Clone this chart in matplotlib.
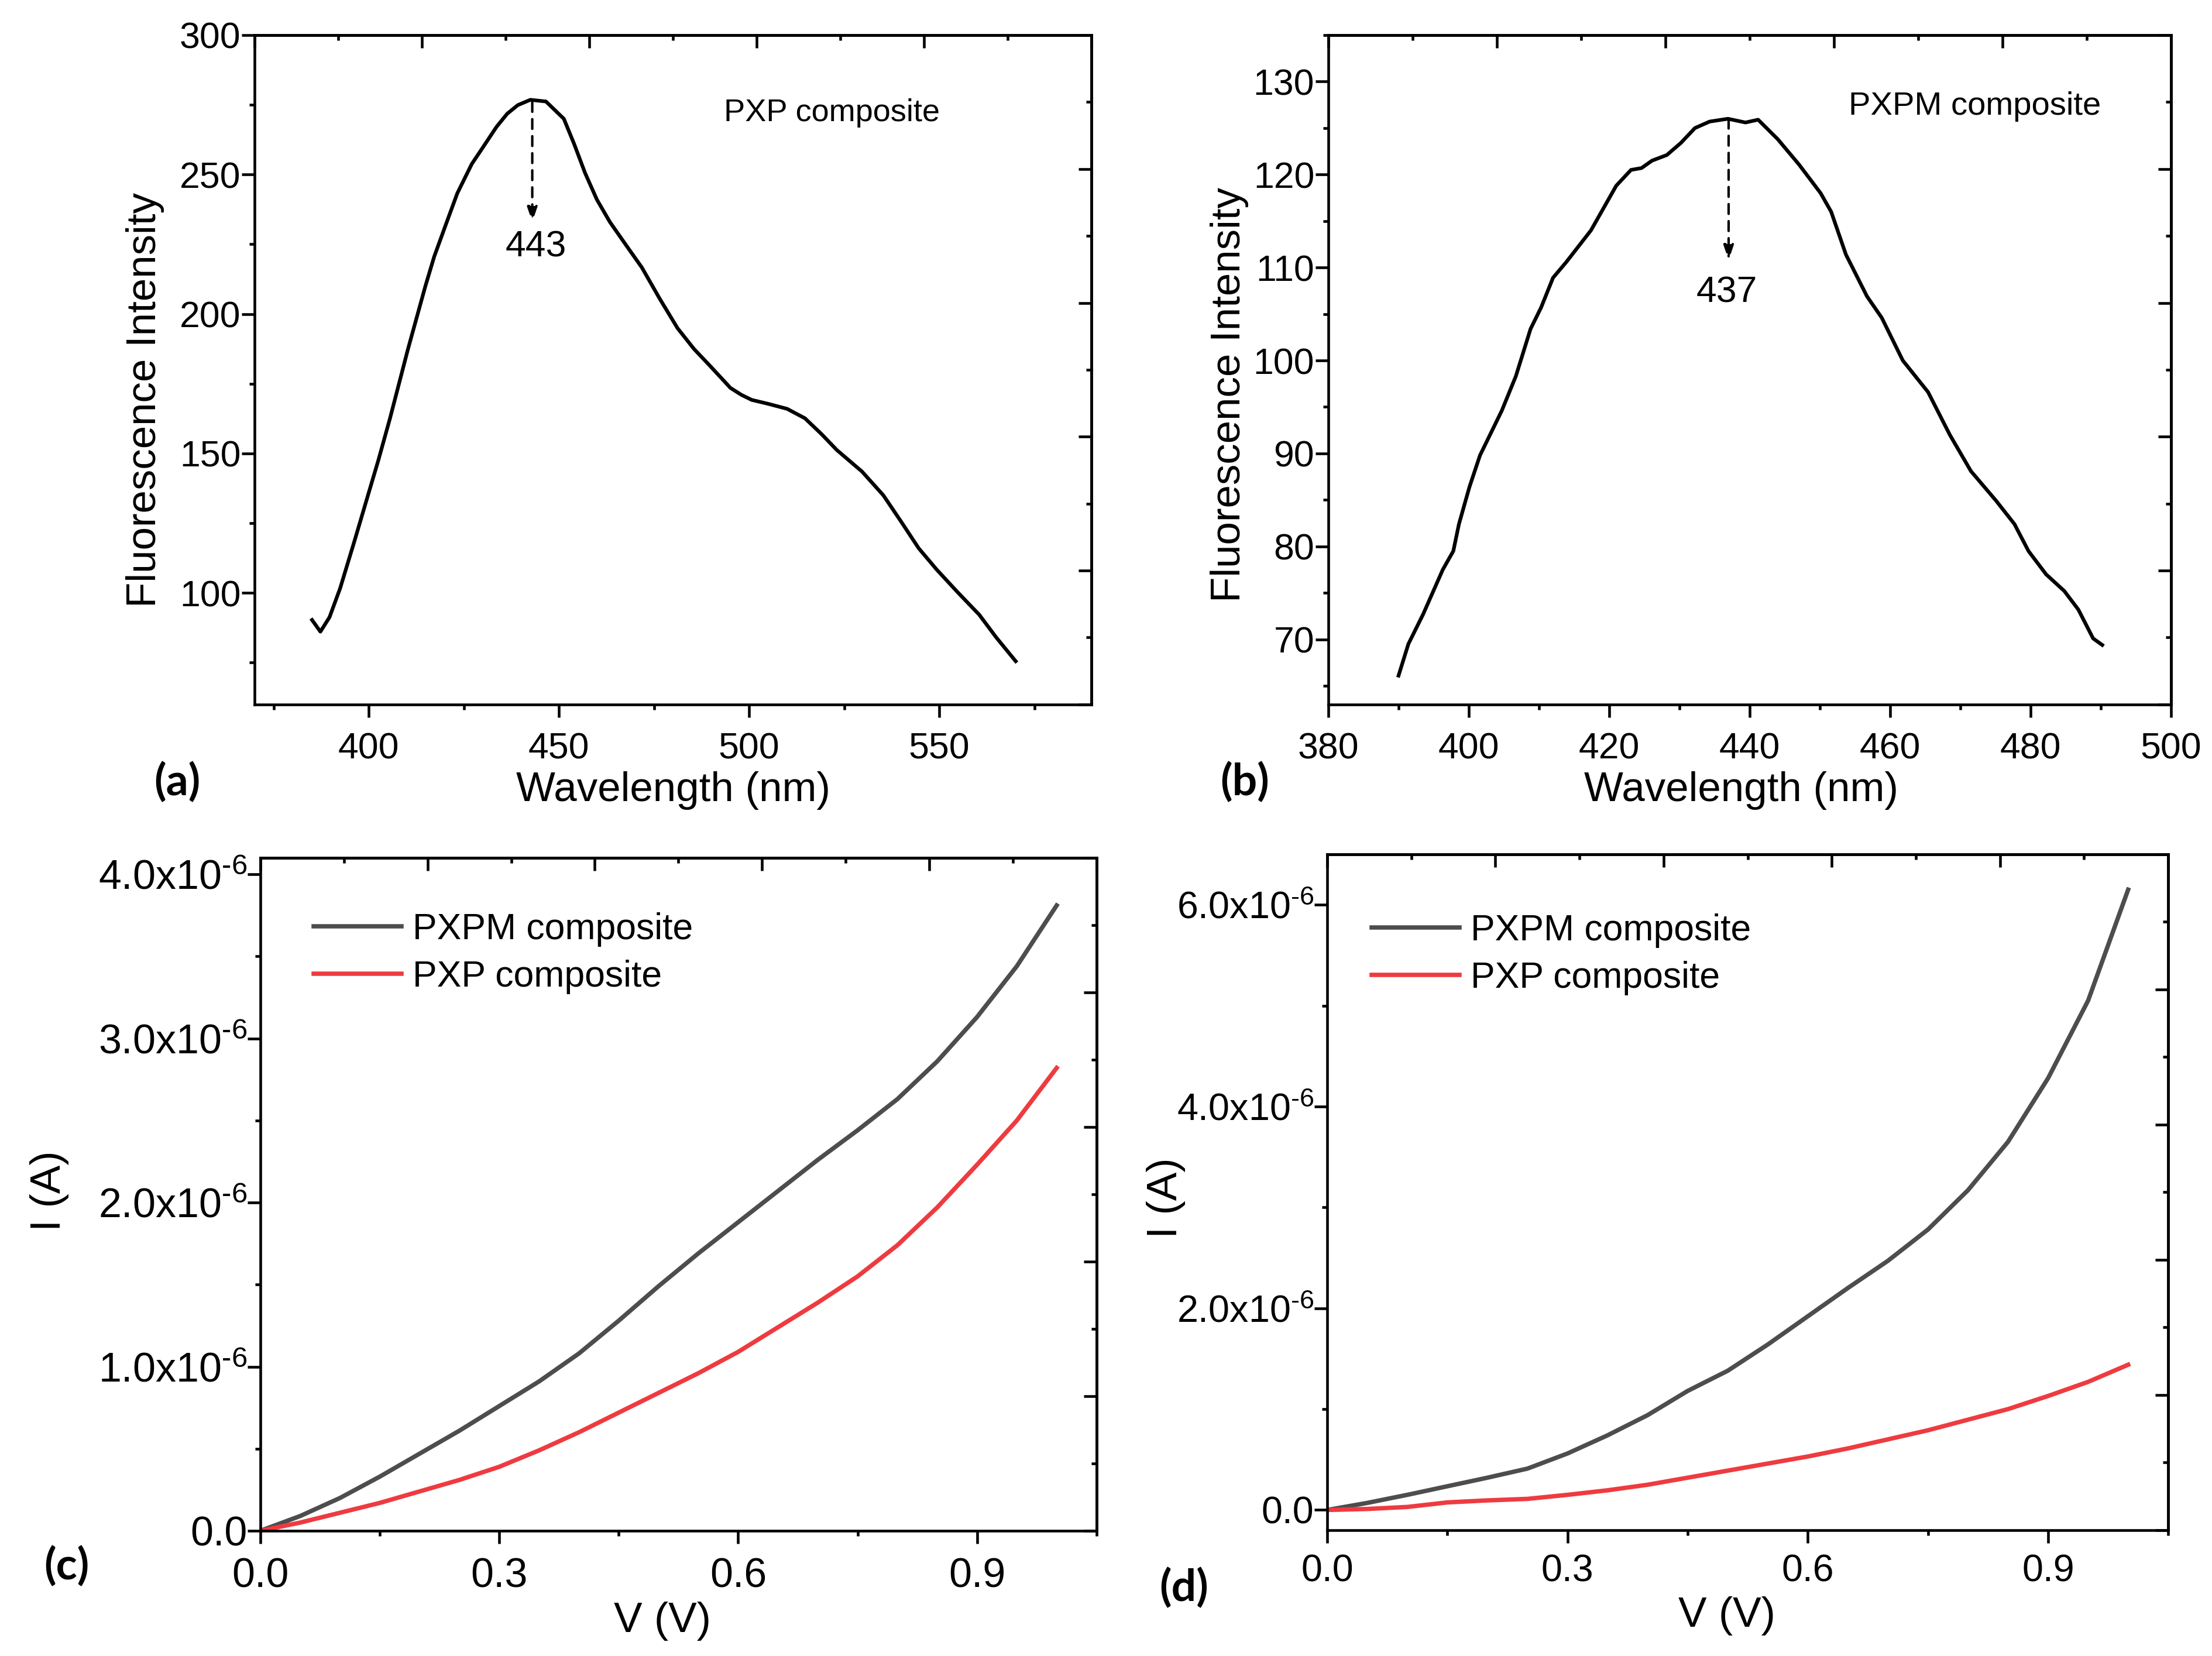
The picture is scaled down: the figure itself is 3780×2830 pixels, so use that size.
import numpy as np
import matplotlib
matplotlib.use('Agg')
import matplotlib.pyplot as plt
from matplotlib.ticker import MultipleLocator, FixedLocator, FuncFormatter

plt.rcParams['font.family'] = ['Liberation Sans', 'DejaVu Sans']
plt.rcParams['mathtext.fontset'] = 'custom'
plt.rcParams['mathtext.rm'] = 'Liberation Sans'
plt.rcParams['mathtext.it'] = 'Liberation Sans:italic'
plt.rcParams['mathtext.default'] = 'regular'
plt.rcParams['axes.linewidth'] = 1.1

# ─── (a) PXP fluorescence ───────────────────────────────────────────────────
pxp_wl = [385.1, 387.3, 389.7, 392.5, 396.3, 400.0, 402.5, 405.6, 410.3, 414.9,
          417.2, 420.5, 423.3, 427.1, 429.9, 433.6, 436.4, 439.2, 442.5, 446.6,
          451.3, 454.0, 456.9, 460.0, 463.4, 467.5, 471.8, 476.5, 481.2, 485.5,
          489.6, 495.1, 498.0, 500.7, 505.0, 510.0, 514.7, 519.0, 523.1, 529.7,
          535.3, 540.0, 544.6, 549.3, 555.0, 560.5, 565.0, 570.1]
pxp_fl = [90.3, 86.1, 91.3, 101.7, 118.8, 135.9, 147.4, 162.6, 187.3, 210.0,
          220.5, 232.9, 243.3, 253.8, 259.5, 267.1, 271.8, 274.9, 276.8, 276.2,
          270.0, 261.0, 250.5, 241.0, 233.0, 225.0, 216.7, 205.5, 194.9, 187.5,
          181.6, 173.5, 171.0, 169.2, 167.8, 166.0, 162.6, 157.0, 151.2, 143.5,
          135.0, 125.5, 116.0, 108.4, 100.0, 92.2, 84.0, 75.5]

# ─── (b) PXPM fluorescence ──────────────────────────────────────────────────
pxpm_wl = [390.0, 391.4, 393.5, 396.3, 397.8, 398.6, 400.1, 401.6, 402.7, 404.7,
           406.7, 408.8, 410.3, 412.0, 413.9, 417.4, 421.0, 423.1, 424.6, 426.1,
           428.2, 430.2, 432.2, 434.3, 436.9, 439.4, 441.2, 444.0, 447.0, 450.1,
           451.6, 453.7, 456.7, 458.8, 461.8, 465.4, 468.5, 471.5, 475.1, 477.7,
           479.7, 482.2, 484.8, 486.8, 488.9, 490.2]
pxpm_fl = [66.1, 69.5, 72.7, 77.5, 79.5, 82.4, 86.4, 89.8, 91.5, 94.6,
           98.3, 103.4, 105.7, 108.9, 110.6, 114.0, 118.8, 120.5, 120.7, 121.5,
           122.1, 123.4, 125.0, 125.7, 126.0, 125.6, 125.9, 123.8, 121.1, 118.0,
           116.0, 111.4, 106.9, 104.6, 100.0, 96.6, 92.0, 88.1, 84.9, 82.4,
           79.5, 77.0, 75.2, 73.2, 70.1, 69.4]

# ─── I-V sweep (shared voltage points) ──────────────────────────────────────
volts = [0.0, 0.05, 0.1, 0.15, 0.2, 0.25, 0.3, 0.35, 0.4, 0.45, 0.5,
         0.55, 0.6, 0.65, 0.7, 0.75, 0.8, 0.85, 0.9, 0.95, 1.0]

# (c) current in 1e-6 A
pxpm_c = [0.0, 0.09, 0.20, 0.33, 0.47, 0.61, 0.76, 0.91, 1.08, 1.28, 1.49,
          1.69, 1.88, 2.07, 2.26, 2.44, 2.63, 2.86, 3.13, 3.44, 3.81]
pxp_c = [0.0, 0.05, 0.11, 0.17, 0.24, 0.31, 0.39, 0.49, 0.60, 0.72, 0.84,
         0.96, 1.09, 1.24, 1.39, 1.55, 1.74, 1.97, 2.23, 2.50, 2.82]

# (d) current in 1e-6 A
pxpm_d = [0.0, 0.07, 0.15, 0.235, 0.32, 0.41, 0.56, 0.74, 0.94, 1.18, 1.38,
          1.64, 1.92, 2.20, 2.47, 2.78, 3.17, 3.65, 4.28, 5.05, 6.15]
pxp_d = [0.0, 0.01, 0.03, 0.075, 0.095, 0.11, 0.15, 0.195, 0.25, 0.32, 0.39,
         0.46, 0.53, 0.61, 0.70, 0.79, 0.895, 1.0, 1.13, 1.27, 1.44]

GRAY = '#4d4d4d'
RED = '#ee3b40'


def mirror_ticks(ax, xlim, ylim):
    # Origin-style top/right axes: range split into 10, long tick every 2nd
    top = ax.secondary_xaxis('top')
    top.xaxis.set_major_locator(FixedLocator(np.linspace(xlim[0], xlim[1], 6)))
    top.xaxis.set_minor_locator(FixedLocator(np.linspace(xlim[0], xlim[1], 11)))
    top.tick_params(which='both', direction='in', labeltop=False, width=1.1)
    top.tick_params(which='major', length=5.2)
    top.tick_params(which='minor', length=2.2)
    right = ax.secondary_yaxis('right')
    right.yaxis.set_major_locator(FixedLocator(np.linspace(ylim[0], ylim[1], 6)))
    right.yaxis.set_minor_locator(FixedLocator(np.linspace(ylim[0], ylim[1], 11)))
    right.tick_params(which='both', direction='in', labelright=False, width=1.1)
    right.tick_params(which='major', length=5.2)
    right.tick_params(which='minor', length=2.2)


def style_axes(ax, size, xpad, ypad):
    ax.tick_params(which='both', direction='out', top=False, right=False,
                   width=1.1, labelsize=size)
    ax.tick_params(which='major', length=5.2)
    ax.tick_params(which='minor', length=2.2)
    ax.tick_params(axis='x', pad=xpad)
    ax.tick_params(axis='y', pad=ypad)


def sci_fmt(v, pos):
    if abs(v) < 1e-12:
        return '0.0'
    return f'{v * 1e6:.1f}x10$^{{\\text{{-6}}}}$'


def dashed_arrow(ax, x, y0, y1):
    ax.annotate('', xy=(x, y1), xytext=(x, y0),
                arrowprops=dict(arrowstyle='-|>,head_length=0.5,head_width=0.17',
                                color='black', lw=1.0, linestyle=(0, (4, 3)),
                                shrinkA=0, shrinkB=0, mutation_scale=10))


fig = plt.figure(figsize=(12.6, 2830 / 300), dpi=300)

# ── (a) ─────────────────────────────────────────────────────────────────────
ax_a = fig.add_axes([0.1151, 0.5746, 0.3783, 0.4042])
ax_a.plot(pxp_wl, pxp_fl, color='black', lw=1.5)
xlim_a, ylim_a = (370, 590), (60, 300)
ax_a.set_xlim(*xlim_a)
ax_a.set_ylim(*ylim_a)
ax_a.xaxis.set_major_locator(MultipleLocator(50))
ax_a.xaxis.set_minor_locator(MultipleLocator(25))
ax_a.yaxis.set_major_locator(MultipleLocator(50))
ax_a.yaxis.set_minor_locator(MultipleLocator(25))
style_axes(ax_a, 15, 6, 0.5)
mirror_ticks(ax_a, xlim_a, ylim_a)
dashed_arrow(ax_a, 443, 276, 233)
ax_a.text(444, 224, '443', fontsize=15, ha='center', va='center')
ax_a.text(493.3, 272, 'PXP composite', fontsize=13, ha='left', va='center')
ax_a.set_xlabel('Wavelength (nm)', fontsize=17)
ax_a.set_ylabel('Fluorescence Intensity', fontsize=17)
ax_a.xaxis.set_label_coords(0.5, -0.129)
ax_a.xaxis.label.set_va('center')
ax_a.yaxis.set_label_coords(-0.131, 0.455)
ax_a.yaxis.label.set_va('center')

# ── (b) ─────────────────────────────────────────────────────────────────────
ax_b = fig.add_axes([0.6005, 0.5746, 0.3810, 0.4042])
ax_b.plot(pxpm_wl, pxpm_fl, color='black', lw=1.5)
xlim_b, ylim_b = (380, 500), (63, 135)
ax_b.set_xlim(*xlim_b)
ax_b.set_ylim(*ylim_b)
ax_b.xaxis.set_major_locator(MultipleLocator(20))
ax_b.xaxis.set_minor_locator(MultipleLocator(10))
ax_b.yaxis.set_major_locator(MultipleLocator(10))
ax_b.yaxis.set_minor_locator(MultipleLocator(5))
style_axes(ax_b, 15, 6, 0.5)
mirror_ticks(ax_b, xlim_b, ylim_b)
dashed_arrow(ax_b, 437, 126, 110.8)
ax_b.text(436.7, 107.3, '437', fontsize=15, ha='center', va='center')
ax_b.text(454.1, 127.3, 'PXPM composite', fontsize=13.5, ha='left', va='center')
ax_b.set_xlabel('Wavelength (nm)', fontsize=17)
ax_b.set_ylabel('Fluorescence Intensity', fontsize=17)
ax_b.xaxis.set_label_coords(0.49, -0.129)
ax_b.xaxis.label.set_va('center')
ax_b.yaxis.set_label_coords(-0.117, 0.463)
ax_b.yaxis.label.set_va('center')

# ── (c) ─────────────────────────────────────────────────────────────────────
ax_c = fig.add_axes([0.1177, 0.0756, 0.3780, 0.4064])
ax_c.plot(volts, np.array(pxpm_c) * 1e-6, color=GRAY, lw=1.8, label='PXPM composite')
ax_c.plot(volts, np.array(pxp_c) * 1e-6, color=RED, lw=1.8, label='PXP composite')
xlim_c, ylim_c = (0, 1.05), (0, 4.1e-6)
ax_c.set_xlim(*xlim_c)
ax_c.set_ylim(*ylim_c)
ax_c.xaxis.set_major_locator(MultipleLocator(0.3))
ax_c.xaxis.set_minor_locator(MultipleLocator(0.15))
ax_c.yaxis.set_major_locator(MultipleLocator(1e-6))
ax_c.yaxis.set_minor_locator(MultipleLocator(0.5e-6))
ax_c.xaxis.set_major_formatter(FuncFormatter(lambda v, p: f'{v:.1f}'))
ax_c.yaxis.set_major_formatter(FuncFormatter(sci_fmt))
style_axes(ax_c, 16.8, 5.8, 0.2)
mirror_ticks(ax_c, xlim_c, ylim_c)
ax_c.legend(loc='center left', bbox_to_anchor=(0.064, 0.858), frameon=False,
            fontsize=15, handlelength=2.4, handletextpad=0.3, labelspacing=0.35,
            borderpad=0, borderaxespad=0)
ax_c.set_xlabel('V (V)', fontsize=17.5)
ax_c.set_ylabel('I (A)', fontsize=17.5)
ax_c.xaxis.set_label_coords(0.481, -0.134)
ax_c.xaxis.label.set_va('center')
ax_c.yaxis.set_label_coords(-0.252, 0.505)
ax_c.yaxis.label.set_va('center')

# ── (d) ─────────────────────────────────────────────────────────────────────
ax_d = fig.add_axes([0.6000, 0.0760, 0.3802, 0.4081])
ax_d.plot(volts, np.array(pxpm_d) * 1e-6, color=GRAY, lw=1.8, label='PXPM composite')
ax_d.plot(volts, np.array(pxp_d) * 1e-6, color=RED, lw=1.8, label='PXP composite')
xlim_d, ylim_d = (0, 1.05), (-0.2e-6, 6.5e-6)
ax_d.set_xlim(*xlim_d)
ax_d.set_ylim(*ylim_d)
ax_d.xaxis.set_major_locator(MultipleLocator(0.3))
ax_d.xaxis.set_minor_locator(MultipleLocator(0.15))
ax_d.yaxis.set_major_locator(MultipleLocator(2e-6))
ax_d.yaxis.set_minor_locator(MultipleLocator(1e-6))
ax_d.xaxis.set_major_formatter(FuncFormatter(lambda v, p: f'{v:.1f}'))
ax_d.yaxis.set_major_formatter(FuncFormatter(sci_fmt))
style_axes(ax_d, 15.5, 4.6, 0.2)
mirror_ticks(ax_d, xlim_d, ylim_d)
ax_d.legend(loc='center left', bbox_to_anchor=(0.053, 0.852), frameon=False,
            fontsize=15, handlelength=2.4, handletextpad=0.3, labelspacing=0.35,
            borderpad=0, borderaxespad=0)
ax_d.set_xlabel('V (V)', fontsize=17.5)
ax_d.set_ylabel('I (A)', fontsize=17.5)
ax_d.xaxis.set_label_coords(0.475, -0.127)
ax_d.xaxis.label.set_va('center')
ax_d.yaxis.set_label_coords(-0.192, 0.492)
ax_d.yaxis.label.set_va('center')

# panel letters
for (x, y, s) in [(0.0802, 0.5276, '(a)'), (0.5627, 0.5276, '(b)'),
                  (0.0302, 0.0541, '(c)'), (0.5352, 0.0410, '(d)')]:
    fig.text(x, y, s, fontsize=18, fontweight='bold', ha='center', va='center',
             family=['Lato', 'DejaVu Sans'])

fig.savefig('out.png', dpi=300, facecolor='white')
